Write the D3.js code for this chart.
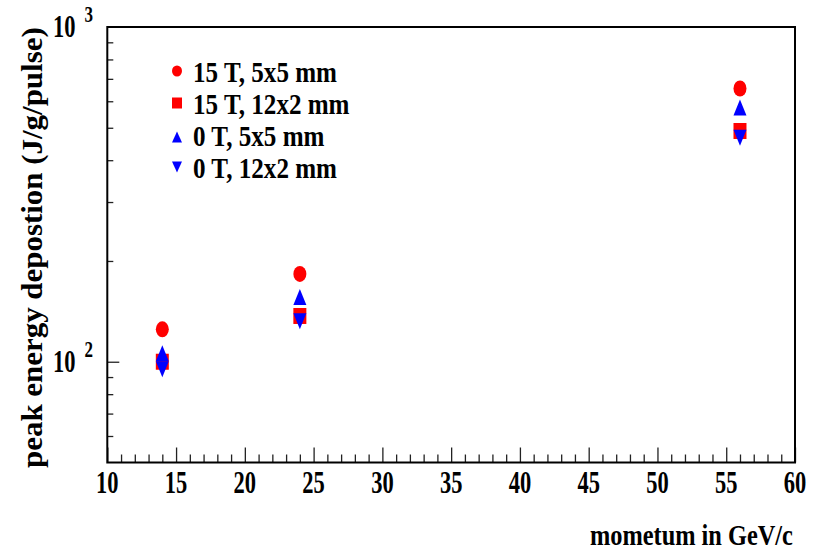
<!DOCTYPE html>
<html>
<head>
<meta charset="utf-8">
<script src="https://cdn.jsdelivr.net/npm/d3@7"></script>
<style>
  html, body { margin: 0; padding: 0; background: #ffffff; }
  svg { display: block; }
  text { font-family: "Liberation Serif", "Times New Roman", serif; font-weight: bold; fill: #000; }
</style>
</head>
<body>
<svg id="chart" width="814" height="551"></svg>
<script>
// ---- data ----
const momentum = [14, 24, 56];
const field15_5x5 = [125, 183, 655];
const field15_12x2 = [100, 137, 489];
const field0_5x5 = [106, 156, 575];
const field0_12x2 = [95, 132, 467];

const seriesNames = ["15 T, 5x5 mm", "15 T, 12x2 mm", "0 T, 5x5 mm", "0 T, 12x2 mm"];
const seriesColors = ["#ff0000", "#ff0000", "#0000ff", "#0000ff"];
const seriesShapes = ["circle", "square", "up", "down"];
const seriesValues = [field15_5x5, field15_12x2, field0_5x5, field0_12x2];

const xMajorTicks = [10, 15, 20, 25, 30, 35, 40, 45, 50, 55, 60];
const xMinorTicks = d3.range(11, 60).filter(v => v % 5 !== 0);
const yMajorTicks = [100];
const yMinorTicks = [60, 70, 80, 90, 200, 300, 400, 500, 600, 700, 800, 900];
const yLabels = [{v: 100, exp: "2"}, {v: 1000, exp: "3"}];

const xTitle = "mometum in GeV/c";
const yTitle = "peak energy depostion (J/g/pulse)";

// ---- layout ----
const L = 107.3, R = 795, T = 27, B = 462.5;
const svg = d3.select("#chart");

const x = d3.scaleLinear().domain([10, 60]).range([L, R]);
const y = d3.scaleLog().domain([50, 1000]).range([B, T]);

function stext(tx, ty, str, size, sx, anchor, rot) {
  const g = svg.append("g")
    .attr("transform", `translate(${tx},${ty})` + (rot ? ` rotate(${rot})` : "") + ` scale(${sx},1)`);
  return g.append("text").attr("x", 0).attr("y", 0)
    .attr("font-size", size).attr("text-anchor", anchor || "start").text(str);
}
function fitText(tx, ty, str, size, width, anchor, rot) {
  const t = stext(tx, ty, str, size, 1, anchor, rot);
  const w = t.node().getComputedTextLength();
  const sx = width / w;
  d3.select(t.node().parentNode).attr("transform",
    `translate(${tx},${ty})` + (rot ? ` rotate(${rot})` : "") + ` scale(${sx},1)`);
  return sx;
}

// ---- axes ticks ----
const gx1 = svg.append("g").attr("transform", `translate(0,${B})`)
  .call(d3.axisBottom(x).tickValues(xMajorTicks).tickSize(-15).tickFormat(""));
const gx2 = svg.append("g").attr("transform", `translate(0,${B})`)
  .call(d3.axisBottom(x).tickValues(xMinorTicks).tickSize(-8).tickFormat(""));
const gy1 = svg.append("g").attr("transform", `translate(${L},0)`)
  .call(d3.axisLeft(y).tickValues(yMajorTicks).tickSize(-12).tickFormat(""));
const gy2 = svg.append("g").attr("transform", `translate(${L},0)`)
  .call(d3.axisLeft(y).tickValues(yMinorTicks).tickSize(-6).tickFormat(""));
[gx1, gx2, gy1, gy2].forEach(g => {
  g.select(".domain").remove();
  g.selectAll(".tick line").attr("stroke", "#222").attr("stroke-width", 1.3);
});

// frame
svg.append("rect").attr("x", L).attr("y", T).attr("width", R - L).attr("height", B - T)
  .attr("fill", "none").attr("stroke", "#000").attr("stroke-width", 2);

// x tick labels
xMajorTicks.forEach(v => fitText(x(v), 493, String(v), 32, 22.5, "middle"));

// y tick labels (10^n)
yLabels.forEach(d => {
  const yy = y(d.v);
  fitText(53, yy + 10, "10", 32, 22.5, "start");
  fitText(84.5, yy - 5, d.exp, 23, 8.5, "start");
});

// titles
fitText(590, 545, xTitle, 29, 203, "start");
fitText(42, 468, yTitle, 29, 441, "start", -90);

// ---- markers ----
function markerPath(shape, w, h) {
  const hw = w / 2, hh = h / 2;
  if (shape === "square") return `M${-hw},${-hh}H${hw}V${hh}H${-hw}Z`;
  if (shape === "up") return `M0,${-hh}L${hw},${hh}L${-hw},${hh}Z`;
  if (shape === "down") return `M0,${hh}L${hw},${-hh}L${-hw},${-hh}Z`;
  return null;
}
function drawMarker(g, shape, cx, cy, w, h, color) {
  if (shape === "circle") {
    g.append("ellipse").attr("cx", cx).attr("cy", cy).attr("rx", w / 2).attr("ry", h / 2).attr("fill", color);
  } else {
    g.append("path").attr("d", markerPath(shape, w, h))
      .attr("transform", `translate(${cx},${cy})`).attr("fill", color);
  }
}

const gm = svg.append("g");
seriesValues.forEach((vals, i) => {
  momentum.forEach((m, j) => {
    drawMarker(gm, seriesShapes[i], x(m), y(vals[j]), 13, 16, seriesColors[i]);
  });
});

// ---- legend ----
const legendMarkerY = [71, 103, 137, 167];
const legendBaseY = [81.5, 113.5, 146, 178];
let legendScale = null;
seriesNames.forEach((name, i) => {
  drawMarker(svg, seriesShapes[i], 177, legendMarkerY[i], 10, 11, seriesColors[i]);
  if (i === 0) {
    legendScale = fitText(193, legendBaseY[i], name, 29.5, 144, "start");
  } else {
    stext(193, legendBaseY[i], name, 29.5, legendScale, "start");
  }
});
</script>
</body>
</html>
